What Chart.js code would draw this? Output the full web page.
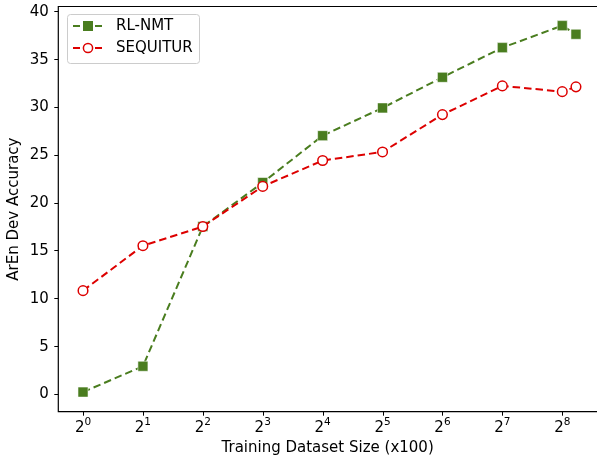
<!DOCTYPE html>
<html>
<head>
<meta charset="utf-8">
<script src="https://cdn.jsdelivr.net/npm/chart.js@4"></script>
<style>
html,body{margin:0;padding:0;background:#fff;overflow:hidden;}
canvas{display:block;}
</style>
</head>
<body>
<canvas id="c" width="597" height="461"></canvas>
<script>
// Training dataset size (x100)
const sizes = [1, 2, 4, 8, 16, 32, 64, 128, 256, 300];
const rlNmt = [0.2, 2.9, 17.5, 22.1, 27.0, 29.9, 33.1, 36.2, 38.5, 37.6];
const sequitur = [10.8, 15.5, 17.5, 21.7, 24.4, 25.3, 29.2, 32.2, 31.6, 32.1];
const xTicks = [1, 2, 4, 8, 16, 32, 64, 128, 256];
const xTickBase = '2';
const xTickExponents = ['0', '1', '2', '3', '4', '5', '6', '7', '8'];
const yTicks = [0, 5, 10, 15, 20, 25, 30, 35, 40];
const seriesNames = ['RL-NMT', 'SEQUITUR'];

const GREEN = '#4a7d1f';
const RED = '#dd0000';
const FONT = 'DejaVu Sans';

const toPts = arr => arr.map((v, i) => ({x: sizes[i], y: v}));

const frame = {
  id: 'frame',
  afterDatasetsDraw(chart) {
    const {ctx, chartArea: a} = chart;
    ctx.save();
    ctx.strokeStyle = '#000';
    ctx.lineWidth = 1.2;
    ctx.beginPath();
    ctx.moveTo(a.right + 2, a.top);
    ctx.lineTo(a.left, a.top);
    ctx.lineTo(a.left, a.bottom);
    ctx.lineTo(a.right + 2, a.bottom);
    ctx.stroke();
    ctx.restore();
  },
  afterDraw(chart) {
    const {ctx, chartArea: a} = chart;
    const xs = chart.scales.x, ys = chart.scales.y;
    ctx.save();
    // tick marks
    ctx.strokeStyle = '#000';
    ctx.lineWidth = 1;
    ctx.beginPath();
    xTicks.forEach(v => {
      const px = Math.round(xs.getPixelForValue(v)) + 0.5;
      ctx.moveTo(px, a.bottom); ctx.lineTo(px, a.bottom + 4);
    });
    yTicks.forEach(v => {
      const py = Math.round(ys.getPixelForValue(v)) + 0.5;
      ctx.moveTo(a.left, py); ctx.lineTo(a.left - 4, py);
    });
    ctx.stroke();
    // y tick labels
    ctx.fillStyle = '#000';
    ctx.font = '15px "' + FONT + '"';
    ctx.textAlign = 'right';
    ctx.textBaseline = 'middle';
    yTicks.forEach(v => {
      ctx.fillText(String(v), a.left - 9.5, ys.getPixelForValue(v) + 0.5);
    });
    // x tick labels: base with raised exponent
    ctx.textBaseline = 'alphabetic';
    ctx.textAlign = 'left';
    xTicks.forEach((v, i) => {
      const px = xs.getPixelForValue(v);
      ctx.font = '15px "' + FONT + '"';
      const wb = ctx.measureText(xTickBase).width;
      ctx.font = '10.5px "' + FONT + '"';
      const we = ctx.measureText(xTickExponents[i]).width;
      const x0 = px - (wb + we) / 2;
      ctx.font = '15px "' + FONT + '"';
      ctx.fillText(xTickBase, x0, 431.5);
      ctx.font = '10.5px "' + FONT + '"';
      ctx.fillText(xTickExponents[i], x0 + wb, 424.5);
    });
    ctx.restore();

    // legend
    const x0 = 67, y0 = 14, w = 132, h = 49;
    ctx.save();
    ctx.fillStyle = 'rgba(255,255,255,0.85)';
    ctx.strokeStyle = '#cccccc';
    ctx.lineWidth = 1;
    ctx.beginPath();
    ctx.roundRect(x0 + 0.5, y0 + 0.5, w, h, 3);
    ctx.fill();
    ctx.stroke();
    chart.data.datasets.forEach((ds, i) => {
      const yc = 26 + i * 22;
      ctx.strokeStyle = ds.borderColor;
      ctx.lineWidth = 2;
      ctx.setLineDash([7, 4]);
      ctx.beginPath();
      ctx.moveTo(73, yc);
      ctx.lineTo(103, yc);
      ctx.stroke();
      ctx.setLineDash([]);
      if (ds.pointStyle === 'rect') {
        ctx.fillStyle = ds.pointBackgroundColor;
        ctx.fillRect(83, yc - 5, 10, 10);
      } else {
        ctx.fillStyle = '#fff';
        ctx.strokeStyle = ds.pointBorderColor;
        ctx.lineWidth = 1.5;
        ctx.beginPath();
        ctx.arc(88, yc, 4.6, 0, Math.PI * 2);
        ctx.fill();
        ctx.stroke();
      }
      ctx.fillStyle = '#000';
      ctx.font = '15px "' + FONT + '"';
      ctx.textBaseline = 'middle';
      ctx.textAlign = 'left';
      ctx.fillText(ds.label, 116, yc);
    });
    ctx.restore();
  }
};

new Chart(document.getElementById('c'), {
  type: 'line',
  data: {
    datasets: [
      {
        label: seriesNames[0],
        data: toPts(rlNmt),
        borderColor: GREEN,
        borderWidth: 2,
        borderDash: [7.5, 4],
        pointStyle: 'rect',
        pointRadius: 7.1,
        pointBackgroundColor: GREEN,
        pointBorderColor: 'rgba(255,255,255,0.55)',
        pointBorderWidth: 1,
        tension: 0,
        fill: false,
        order: 2
      },
      {
        label: seriesNames[1],
        data: toPts(sequitur),
        borderColor: RED,
        borderWidth: 2,
        borderDash: [7.5, 4],
        pointStyle: 'circle',
        pointRadius: 4.8,
        pointBackgroundColor: '#ffffff',
        pointBorderColor: RED,
        pointBorderWidth: 1.5,
        tension: 0,
        fill: false,
        order: 1
      }
    ]
  },
  options: {
    responsive: false,
    animation: false,
    events: [],
    layout: {autoPadding: false, padding: {top: 6.5, right: 0, left: 0, bottom: 0}},
    plugins: {legend: {display: false}, tooltip: {enabled: false}},
    scales: {
      x: {
        type: 'logarithmic',
        min: Math.pow(2, -0.4125),
        max: Math.pow(2, 8.58),
        afterBuildTicks(s) { s.ticks = xTicks.map(v => ({value: v})); },
        afterFit(s) { s.height = 49.3; },
        grid: {display: false},
        border: {display: false},
        ticks: {display: false},
        title: {display: true, text: 'Training Dataset Size (x100)', color: '#000',
                font: {family: FONT, size: 15}, padding: {top: 4, bottom: 3.5}}
      },
      y: {
        type: 'linear',
        min: -1.85,
        max: 40.5,
        afterBuildTicks(s) { s.ticks = yTicks.map(v => ({value: v})); },
        afterFit(s) { s.width = 58.3; },
        grid: {display: false},
        border: {display: false},
        ticks: {display: false},
        title: {display: true, text: 'ArEn Dev Accuracy', color: '#000',
                font: {family: FONT, size: 15}, padding: {top: 5, bottom: 4}}
      }
    }
  },
  plugins: [frame]
});
</script>
</body>
</html>
